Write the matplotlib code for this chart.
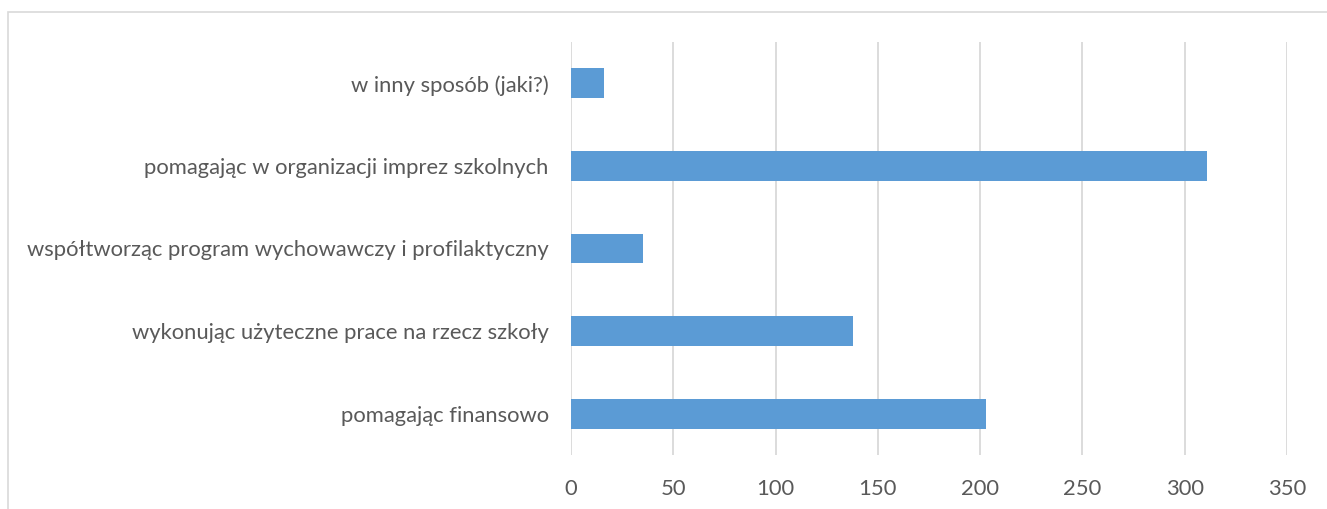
from matplotlib import pyplot as plt
from matplotlib.patches import Rectangle
import numpy as np

# categories, bottom to top
categories = ['pomagając finansowo',
              'wykonując użyteczne prace na rzecz szkoły',
              'współtworząc program wychowawczy i profilaktyczny',
              'pomagając w organizacji imprez szkolnych',
              'w inny sposób (jaki?)']
values = [203, 138, 35, 311, 16]
xticks = [0, 50, 100, 150, 200, 250, 300, 350]

W, H = 1327, 509
textcol = '#595959'
gridcol = '#d9d9d9'

plt.rcParams['font.family'] = ['Lato', 'DejaVu Sans']

fig = plt.figure(figsize=(W/100., H/100.), dpi=100)
ax = fig.add_axes([571./W, 1-455./H, (1287.-571.)/W, (455.-42.)/H])

ypos = np.arange(len(categories))
ax.barh(ypos, values, height=0.36, color='#5b9bd5', zorder=3)

ax.set_xlim(0, 350)
ax.set_ylim(-0.5, len(categories)-0.5)
ax.set_xticks(xticks)
ax.set_xticklabels([str(x) for x in xticks])
ax.set_yticks(ypos)
ax.set_yticklabels(categories)
ax.grid(axis='x', color=gridcol, lw=1.3, zorder=0)
for s in ax.spines.values():
    s.set_visible(False)
ax.tick_params(axis='x', length=0, pad=17, labelsize=15.8, labelcolor=textcol)
ax.tick_params(axis='y', length=0, pad=16, labelsize=15.8, labelcolor=textcol)

# chart area border (cropped on right and bottom)
fig.patches.append(Rectangle((8./W, -0.1), 1.2, 1-12./H+0.1,
                             transform=fig.transFigure, fill=False,
                             edgecolor=gridcol, lw=1.2))

plt.savefig('out.png', dpi=100)
